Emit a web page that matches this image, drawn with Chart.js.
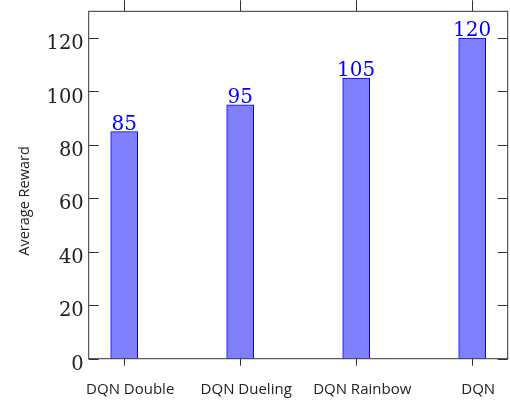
<!DOCTYPE html>
<html>
<head>
<meta charset="utf-8">
<script src="https://cdn.jsdelivr.net/npm/chart.js@4/dist/chart.umd.min.js"></script>
<style>
  html, body { margin: 0; padding: 0; background: #fff; }
  #wrap { width: 510px; height: 400px; }
</style>
</head>
<body>
<div id="wrap"><canvas id="c" width="510" height="400"></canvas></div>
<script>
// Agents and their average reward
const categories = ['DQN Double', 'DQN Dueling', 'DQN Rainbow', 'DQN'];
const rewards = [85, 95, 105, 120];
const yTicks = [0, 20, 40, 60, 80, 100, 120];
const yTitle = 'Average Reward';

const FRAME = '#333333';
const TEXT = '#222222';

// Frame box with pgfplots-style ticks, bar value labels and the y title
const framePlugin = {
  id: 'frame',
  afterDraw(chart) {
    const { ctx, chartArea: a, scales: { x, y } } = chart;
    ctx.save();
    ctx.strokeStyle = FRAME;
    ctx.lineWidth = 1;
    ctx.strokeRect(a.left, a.top, a.right - a.left, a.bottom - a.top);
    ctx.beginPath();
    categories.forEach((_, i) => {
      const px = Math.round(x.getPixelForValue(i)) + 0.5;
      ctx.moveTo(px, a.bottom); ctx.lineTo(px, a.bottom + 7);
      ctx.moveTo(px, a.top); ctx.lineTo(px, a.top - 11);
    });
    yTicks.forEach(v => {
      const py = Math.round(y.getPixelForValue(v)) + 0.5;
      ctx.moveTo(a.left, py); ctx.lineTo(a.left + 10, py);
      ctx.moveTo(a.right, py); ctx.lineTo(a.right - 10, py);
    });
    ctx.stroke();

    // value labels above bars
    ctx.fillStyle = '#0000ff';
    ctx.font = '20px "DejaVu Serif"';
    ctx.textAlign = 'center';
    ctx.textBaseline = 'alphabetic';
    rewards.forEach((v, i) => {
      ctx.fillText(String(v), x.getPixelForValue(i), y.getPixelForValue(v) - 2);
    });

    // y axis title
    ctx.fillStyle = TEXT;
    ctx.font = '14.5px "Open Sans"';
    ctx.translate(25, 201);
    ctx.rotate(-Math.PI / 2);
    ctx.textBaseline = 'middle';
    ctx.fillText(yTitle, 0, 0);
    ctx.restore();
  }
};

new Chart(document.getElementById('c'), {
  type: 'bar',
  data: {
    datasets: [{
      data: rewards.map((v, i) => ({ x: i, y: v })),
      backgroundColor: 'rgb(128,128,255)',
      borderColor: '#0000ff',
      borderWidth: 1,
      barThickness: 27
    }]
  },
  options: {
    responsive: false,
    animation: false,
    layout: { padding: { top: 11.3, right: 2.3, left: 0, bottom: 0 } },
    plugins: { legend: { display: false }, tooltip: { enabled: false } },
    scales: {
      x: {
        type: 'linear',
        offset: false,
        min: -0.306,
        max: 3.306,
        afterBuildTicks(s) { s.ticks = categories.map((_, i) => ({ value: i })); },
        afterFit(s) { s.height = 41.3; s.paddingLeft = 0; s.paddingRight = 0; },
        grid: { display: false, drawTicks: false, offset: false },
        border: { display: false },
        ticks: {
          callback: v => categories[v],
          color: TEXT,
          font: { family: 'Open Sans', size: 15 },
          padding: 22,
          labelOffset: 6,
          maxRotation: 0,
          autoSkip: false
        }
      },
      y: {
        min: 0,
        max: 130,
        afterBuildTicks(s) { s.ticks = yTicks.map(v => ({ value: v })); },
        afterFit(s) { s.width = 88.7; s.paddingTop = 0; s.paddingBottom = 0; },
        grid: { display: false, drawTicks: false },
        border: { display: false },
        ticks: {
          color: TEXT,
          font: { family: 'DejaVu Serif', size: 19.5 },
          padding: 5,
          labelOffset: 6
        }
      }
    }
  },
  plugins: [framePlugin]
});
</script>
</body>
</html>
